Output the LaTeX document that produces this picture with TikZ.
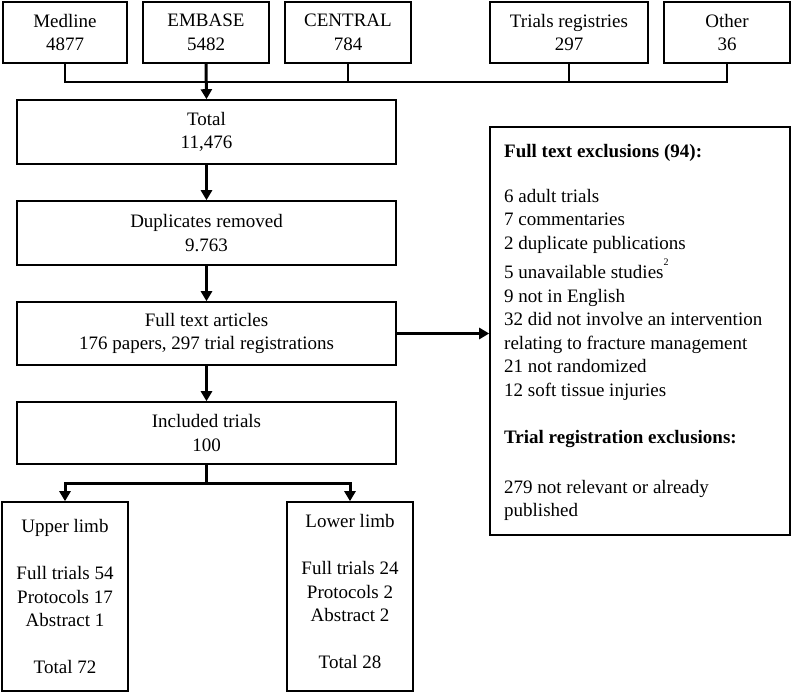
\documentclass[tikz,border=0pt]{standalone}
\usepackage{fontspec}
\setmainfont{Liberation Serif}
\usetikzlibrary{arrows.meta}
\begin{document}
\begin{tikzpicture}[x=1pt,y=-1pt,
  txt/.style={font=\fontsize{19}{23.5}\selectfont},
  box/.style={txt,draw,line width=1.6pt,inner sep=0pt,align=center},
  conn/.style={line width=2.5pt},
  arr/.style={line width=3pt,-{Triangle[width=11pt,length=10pt]}}]
\useasboundingbox (0,0) rectangle (792,693);
% sources
\node[box,minimum width=124pt,minimum height=61pt] (medline) at (65,32.5) {Medline\\4877};
\node[box,minimum width=126pt,minimum height=61pt] (embase) at (206,32.5) {EMBASE\\5482};
\node[box,minimum width=126pt,minimum height=61pt] (central) at (348,32.5) {CENTRAL\\784};
\node[box,minimum width=158pt,minimum height=61pt] (trials) at (569,32.5) {Trials registries\\297};
\node[box,minimum width=126pt,minimum height=61pt] (other) at (727,32.5) {Other\\36};
% main column
\node[box,minimum width=379pt,minimum height=64pt] (total) at (206.5,132) {Total\\11,476};
\node[box,minimum width=379pt,minimum height=64pt] (dup) at (206.5,233) {Duplicates removed\\9.763};
\node[box,minimum width=379pt,minimum height=63pt] (full) at (206.5,333.5) {Full text articles\\176 papers, 297 trial registrations};
\node[box,minimum width=379pt,minimum height=62pt] (incl) at (206.5,433) {Included trials\\100};
% limbs
\node[box,minimum width=126pt,minimum height=189pt] (upper) at (65,596.5)
  {Upper limb\\ \\Full trials 54\\Protocols 17\\Abstract 1\\ \\Total 72};
\node[box,minimum width=126pt,minimum height=189pt,text depth=10pt] (lower) at (350,596.5)
  {Lower limb\\ \\Full trials 24\\Protocols 2\\Abstract 2\\ \\Total 28};
% exclusions
\node[draw,line width=1.6pt,inner sep=0pt,minimum width=300pt,minimum height=408pt] (excl) at (640,331) {};
\node[txt,anchor=north west,inner sep=0pt,align=left] (excltext) at (504,140.5)
 {\strut\textbf{Full text exclusions (94):}\\[21.5pt]
  6 adult trials\\
  7 commentaries\\
  2 duplicate publications\\[6pt]
  5 unavailable studies\smash{\raisebox{13pt}{\fontsize{10}{10}\selectfont 2}}\\
  9 not in English\\
  32 did not involve an intervention\\
  relating to fracture management\\
  21 not randomized\\
  12 soft tissue injuries\\[23.5pt]
  \textbf{Trial registration exclusions:}\\[26.5pt]
  279 not relevant or already\\
  published};
% connectors top
\coordinate (hub) at (206,82);
\draw[conn] (medline.south) |- (hub) -| (other.south);
\draw[conn] (central.south) -- (central.south |- hub);
\draw[conn] (trials.south) -- (trials.south |- hub);
\draw[arr] (embase.south) -- (total.north);
% main column arrows
\draw[arr] (total.south) -- (dup.north);
\draw[arr] (dup.south) -- (full.north);
\draw[arr] (full.south) -- (incl.north);
\draw[arr] (full.east) -- (full.east -| excl.west);
% split
\coordinate (split) at (206.5,483);
\draw[conn] (incl.south) -- (split);
\draw[arr] (split) -| (upper.north);
\draw[arr] (split) -| (lower.north);
\end{tikzpicture}
\end{document}
